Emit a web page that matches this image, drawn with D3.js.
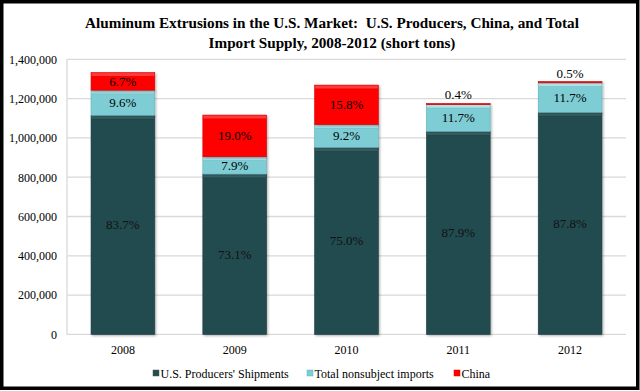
<!DOCTYPE html>
<html>
<head>
<meta charset="utf-8">
<script src="https://cdn.jsdelivr.net/npm/d3@7"></script>
<style>
  html, body { margin: 0; padding: 0; background: #fff; }
  svg { display: block; }
</style>
</head>
<body>
<svg id="chart" width="640" height="391"></svg>
<script>
// ---- Data (short tons) ----
const years = ["2008", "2009", "2010", "2011", "2012"];
const usShipments = [1115000, 816000, 951500, 1033000, 1130000];
const nonsubjectImports = [128000, 88200, 116700, 137500, 150600];
const chinaImports = [89300, 212000, 200500, 4700, 6400];
const usPctLabels = ["83.7%", "73.1%", "75.0%", "87.9%", "87.8%"];
const nonsubjectPctLabels = ["9.6%", "7.9%", "9.2%", "11.7%", "11.7%"];
const chinaPctLabels = ["6.7%", "19.0%", "15.8%", "0.4%", "0.5%"];
const yTicks = [0, 200000, 400000, 600000, 800000, 1000000, 1200000, 1400000];
const seriesNames = ["U.S. Producers' Shipments", "Total nonsubject imports", "China"];
const titleLines = [
  "Aluminum Extrusions in the U.S. Market:  U.S. Producers, China, and Total",
  "Import Supply, 2008-2012 (short tons)"
];

const FONT = "'Liberation Serif', 'Times New Roman', serif";
const W = 640, H = 391;
const plot = { left: 67, right: 626, top: 59.3, bottom: 334.4 };
const svg = d3.select("#chart").attr("font-family", FONT);

svg.append("rect").attr("x", 0).attr("y", 0).attr("width", W).attr("height", H).attr("fill", "#fff");

const colors = [
  { main: "#244c50", light: "#3d6569", edge: "#1b3b3e" },
  { main: "#7ecdd4", light: "#ace2e7", edge: "#5fb3ba" },
  { main: "#ff0000", light: "#ff3a3a", edge: "#d80000" }
];

const x = d3.scaleBand().domain(years).range([plot.left, plot.right]).paddingInner(0.43).paddingOuter(0.215);
const y = d3.scaleLinear().domain([0, 1400000]).range([plot.bottom, plot.top]);

// grid lines
svg.append("g").selectAll("line").data(yTicks).join("line")
  .attr("x1", plot.left).attr("x2", plot.right)
  .attr("y1", d => y(d)).attr("y2", d => y(d))
  .attr("stroke", "#d9d9d9").attr("stroke-width", 1.3);
svg.append("line").attr("x1", plot.left).attr("x2", plot.left)
  .attr("y1", plot.top).attr("y2", plot.bottom)
  .attr("stroke", "#d9d9d9").attr("stroke-width", 1.3);

// y axis labels
const yAxis = d3.axisLeft(y).tickValues(yTicks).tickFormat(d3.format(",")).tickSize(0).tickPadding(10);
const gy = svg.append("g").attr("transform", `translate(${plot.left},0)`).call(yAxis)
  .attr("font-family", FONT).attr("font-size", 12);
gy.select(".domain").remove();
gy.selectAll("text").attr("fill", "#000");

// x axis labels
const xAxis = d3.axisBottom(x).tickSize(0).tickPadding(11);
const gx = svg.append("g").attr("transform", `translate(0,${plot.bottom})`).call(xAxis)
  .attr("font-family", FONT).attr("font-size", 12);
gx.select(".domain").remove();
gx.selectAll("text").attr("fill", "#000");

// shadow filter
const defs = svg.append("defs");
const f = defs.append("filter").attr("id", "shadow").attr("x", "-10%").attr("y", "-10%").attr("width", "130%").attr("height", "130%");
f.append("feDropShadow").attr("dx", 1.2).attr("dy", 1.2).attr("stdDeviation", 1).attr("flood-color", "#000").attr("flood-opacity", 0.3);

// stacked data
const rows = years.map((yr, i) => ({ year: yr, s0: usShipments[i], s1: nonsubjectImports[i], s2: chinaImports[i] }));
const stack = d3.stack().keys(["s0", "s1", "s2"])(rows);
const labelSets = [usPctLabels, nonsubjectPctLabels, chinaPctLabels];

const barsG = svg.append("g");
stack.forEach((layer, k) => {
  layer.forEach((d, i) => {
    const yr = years[i];
    const x0 = x(yr), bw = x.bandwidth();
    const yTop = y(d[1]), yBot = y(d[0]);
    const h = Math.max(yBot - yTop, 1.2);
    const g = barsG.append("g");
    g.append("rect").attr("x", x0).attr("y", yTop).attr("width", bw).attr("height", h)
      .attr("fill", colors[k].main).attr("stroke", colors[k].edge).attr("stroke-width", 0.6)
      .attr("filter", "url(#shadow)");
    if (h > 6) {
      g.append("rect").attr("x", x0 + 0.5).attr("y", yTop + 0.5).attr("width", bw - 1).attr("height", 3)
        .attr("fill", colors[k].light);
      g.append("line").attr("x1", x0 + 0.5).attr("x2", x0 + bw - 0.5)
        .attr("y1", yTop + 3.8).attr("y2", yTop + 3.8)
        .attr("stroke", colors[k].edge).attr("stroke-width", 0.6).attr("opacity", 0.5);
    }
  });
});

// labels
stack.forEach((layer, k) => {
  layer.forEach((d, i) => {
    const yr = years[i];
    const cx = x(yr) + x.bandwidth() / 2;
    const yTop = y(d[1]), yBot = y(d[0]);
    const h = yBot - yTop;
    const label = labelSets[k][i];
    const ty = h < 10 ? yTop - 4 : (yTop + yBot) / 2 + 4.5;
    svg.append("text").attr("x", cx).attr("y", ty).attr("text-anchor", "middle")
      .attr("font-size", 13).attr("fill", k === 0 ? "#111" : "#000").text(label);
  });
});

// title
svg.append("g").selectAll("text").data(titleLines).join("text")
  .attr("x", 332).attr("y", (d, i) => 28 + i * 20)
  .attr("text-anchor", "middle").attr("font-size", 15.2).attr("font-weight", "bold")
  .style("white-space", "pre").attr("xml:space", "preserve")
  .text(d => d);

// legend
const legendX = [153, 307, 454];
const lg = svg.append("g");
seriesNames.forEach((name, k) => {
  lg.append("rect").attr("x", legendX[k]).attr("y", 370).attr("width", 6).attr("height", 6)
    .attr("fill", colors[k].main).attr("stroke", k === 0 ? "#555" : colors[k].edge).attr("stroke-width", 0.5);
  lg.append("text").attr("x", legendX[k] + 7.5).attr("y", 378).attr("font-size", 12).text(name);
});

// outer black frame
svg.append("rect").attr("x", 1.75).attr("y", 1.75).attr("width", W - 4).attr("height", H - 4.5)
  .attr("fill", "none").attr("stroke", "#000").attr("stroke-width", 3.5);
</script>
</body>
</html>
